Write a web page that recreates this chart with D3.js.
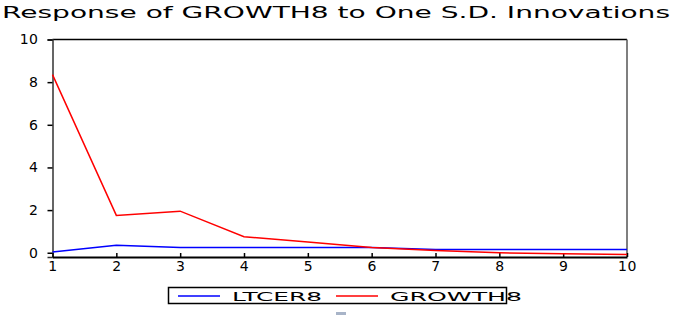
<!DOCTYPE html>
<html>
<head>
<meta charset="utf-8">
<script src="https://cdn.jsdelivr.net/npm/d3@7"></script>
<style>
  body { margin: 0; background: #fff; }
  text { font-family: "DejaVu Sans", "Liberation Sans", Arial, sans-serif; }
</style>
</head>
<body>
<div id="chart"></div>
<script>
// Periods and responses
var periods = [1, 2, 3, 4, 5, 6, 7, 8, 9, 10];
var ltcer8 = [0.03, 0.35, 0.25, 0.25, 0.25, 0.25, 0.15, 0.15, 0.15, 0.15];
var growth8 = [8.35, 1.75, 1.95, 0.75, 0.5, 0.25, 0.1, 0.0, -0.05, -0.08];
var yTicks = [0, 2, 4, 6, 8, 10];
var seriesNames = ["LTCER8", "GROWTH8"];
var seriesColors = ["#0000ff", "#ff0000"];

var W = 682, H = 317;
var margin = { top: 39.5, right: 55, bottom: 60, left: 52.5 };
var width = W - margin.left - margin.right;
var height = H - margin.top - margin.bottom;

var svg = d3.select("#chart").append("svg")
  .attr("width", W)
  .attr("height", H);

// title, stretched wide like the original
svg.append("text")
  .attr("x", 2)
  .attr("y", 18)
  .attr("font-size", "15px")
  .attr("textLength", 668)
  .attr("lengthAdjust", "spacingAndGlyphs")
  .attr("fill", "#000")
  .text("Response of GROWTH8 to One S.D. Innovations");

var g = svg.append("g")
  .attr("transform", `translate(${margin.left}, ${margin.top})`);

var x = d3.scaleLinear().domain([1, 10]).range([0, width]);
var y = d3.scaleLinear().domain([-0.2, 10]).range([height, 0]);

// frame
g.append("line").attr("x1", 0).attr("x2", width).attr("y1", 0).attr("y2", 0)
  .attr("stroke", "#000").attr("stroke-width", 1.5);
g.append("line").attr("x1", width).attr("x2", width).attr("y1", 0).attr("y2", height)
  .attr("stroke", "#555").attr("stroke-width", 1.5);

// y axis
var leftAxis = d3.axisLeft(y).tickValues(yTicks).tickSize(5).tickPadding(9);
var yAxis = g.append("g").call(leftAxis);
yAxis.select(".domain").attr("stroke", "#333").attr("stroke-width", 1.5);
yAxis.selectAll(".tick line").attr("stroke", "#000").attr("stroke-width", 1.5);
yAxis.selectAll(".tick text")
  .attr("font-size", "14px")
  .attr("letter-spacing", "0.5px")
  .attr("fill", "#000")
  .style("font-family", "DejaVu Sans, Arial, sans-serif");

// x axis, ticks point inward
var bottomAxis = d3.axisBottom(x).tickValues(periods).tickSize(-4).tickPadding(4).tickSizeOuter(0);
var xAxis = g.append("g")
  .attr("transform", `translate(0, ${height})`)
  .call(bottomAxis);
xAxis.select(".domain").attr("stroke", "#000").attr("stroke-width", 2);
xAxis.selectAll(".tick line").attr("stroke", "#000").attr("stroke-width", 1.5);
xAxis.selectAll(".tick text")
  .attr("font-size", "14px")
  .attr("letter-spacing", "0.5px")
  .attr("fill", "#000")
  .style("font-family", "DejaVu Sans, Arial, sans-serif");

// lines
var line = d3.line()
  .x((d, i) => x(periods[i]))
  .y(d => y(d));

[ltcer8, growth8].forEach(function(vals, k) {
  g.append("path")
    .datum(vals)
    .attr("fill", "none")
    .attr("stroke", seriesColors[k])
    .attr("stroke-width", 1.5)
    .attr("d", line);
});

// legend
var legend = svg.append("g");
legend.append("rect")
  .attr("x", 168.5).attr("y", 287.5)
  .attr("width", 338).attr("height", 16)
  .attr("fill", "#fff").attr("stroke", "#000").attr("stroke-width", 1.5);

var legendX = [178, 336];
var legendTextW = [90, 132];
seriesNames.forEach(function(name, k) {
  legend.append("line")
    .attr("x1", legendX[k]).attr("x2", legendX[k] + 42)
    .attr("y1", 296).attr("y2", 296)
    .attr("stroke", seriesColors[k]).attr("stroke-width", 1.5);
  legend.append("text")
    .attr("x", legendX[k] + 54)
    .attr("y", 301)
    .attr("font-size", "13px")
    .attr("textLength", legendTextW[k])
    .attr("lengthAdjust", "spacingAndGlyphs")
    .attr("fill", "#000")
    .text(name);
});

// small grey mark under the legend
svg.append("rect")
  .attr("x", 336).attr("y", 312).attr("width", 10).attr("height", 3)
  .attr("fill", "#a8b4c8");
</script>
</body>
</html>
